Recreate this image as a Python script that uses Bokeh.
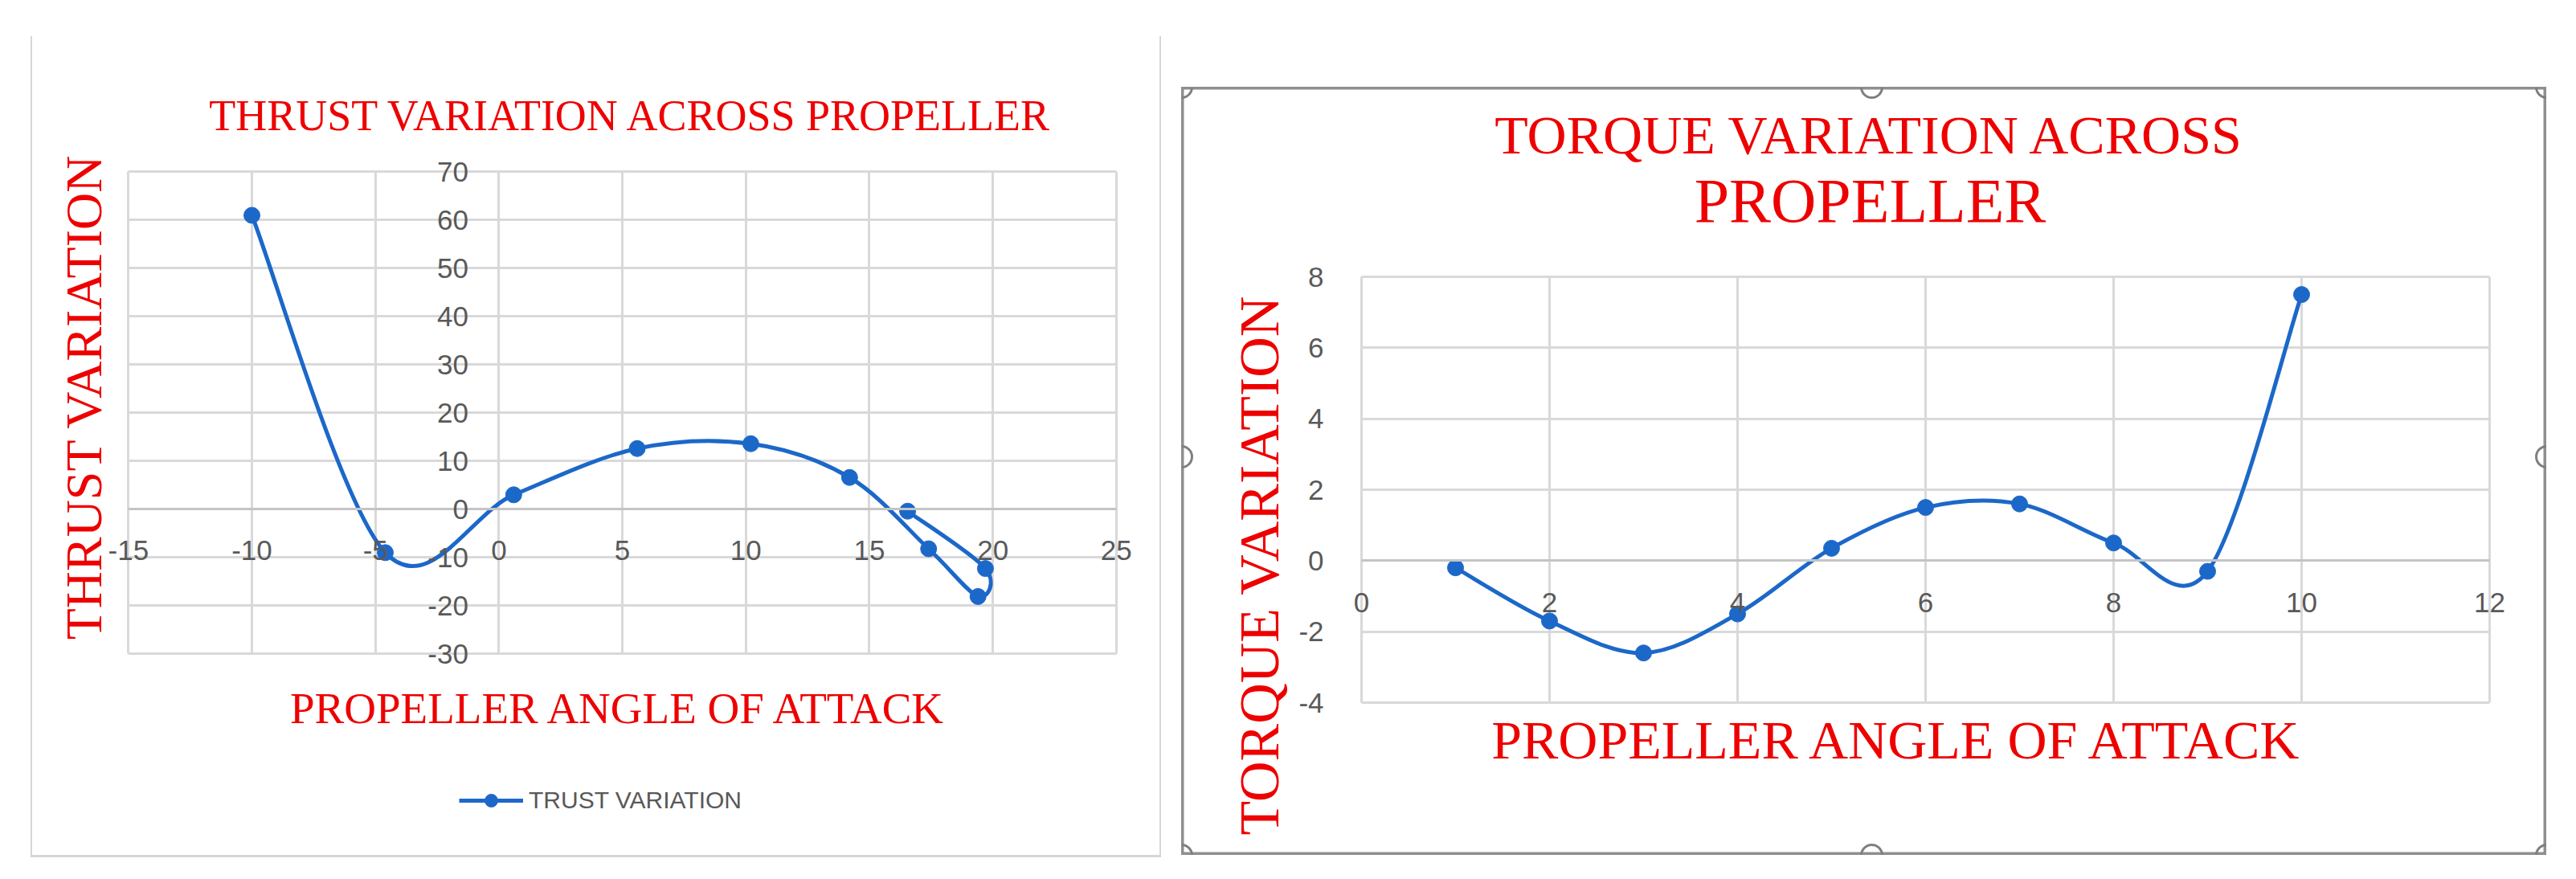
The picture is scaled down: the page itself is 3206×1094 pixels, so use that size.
import math
from bokeh.plotting import figure
from bokeh.models import (Range1d, FixedTicker, Legend, LegendItem, ColumnDataSource, Label,
                          PrintfTickFormatter, Grid)
from bokeh.layouts import row
from bokeh.embed import file_html
from bokeh.resources import INLINE

# ---------------- data ----------------
thrust_angle = [-10, -4.6, 0.6, 5.6, 10.2, 14.2, 17.4, 19.4, 19.7, 16.55]
thrust_value = [61, -9, 3, 12.6, 13.6, 6.6, -8.2, -18.1, -12.3, -0.4]
thrust_xticks = [-15, -10, -5, 0, 5, 10, 15, 20, 25]
thrust_yticks = [-30, -20, -10, 0, 10, 20, 30, 40, 50, 60, 70]

torque_angle = [1, 2, 3, 4, 5, 6, 7, 8, 9, 10]
torque_value = [-0.2, -1.7, -2.6, -1.5, 0.35, 1.5, 1.6, 0.5, -0.3, 7.5]
torque_xticks = [0, 2, 4, 6, 8, 10, 12]
torque_yticks = [-4, -2, 0, 2, 4, 6, 8]

BLUE = "#1c68c9"
RED = "#ee0000"
GRID = "#d9d9d9"
TICK = "#595959"
HANDLE = "#7f7f7f"
SERIF = "Liberation Serif"
SANS = "Liberation Sans"
HAS_CROSS = "cross_bounds" in Grid.properties()


def smooth_source(xs, ys):
    """Excel-style smoothed line: cubic Bezier segments through the points."""
    pts = list(zip(xs, ys))
    n = len(pts)
    d = dict(x0=[], y0=[], x1=[], y1=[], cx0=[], cy0=[], cx1=[], cy1=[])
    for i in range(n - 1):
        p0 = pts[i - 1] if i > 0 else pts[i]
        p1 = pts[i]
        p2 = pts[i + 1]
        p3 = pts[i + 2] if i + 2 < n else pts[i + 1]
        d["x0"].append(p1[0]); d["y0"].append(p1[1])
        d["x1"].append(p2[0]); d["y1"].append(p2[1])
        d["cx0"].append(p1[0] + (p2[0] - p0[0]) / 6)
        d["cy0"].append(p1[1] + (p2[1] - p0[1]) / 6)
        d["cx1"].append(p2[0] - (p3[0] - p1[0]) / 6)
        d["cy1"].append(p2[1] - (p3[1] - p1[1]) / 6)
    return ColumnDataSource(d)


class Panel:
    """A figure whose frame fills the canvas; the plot box is a sub-rectangle."""

    def __init__(self, W, H, box, xlim, ylim):
        self.W, self.H = W, H
        L, T, R, B = box
        self.L, self.T = L, T
        self.xlim, self.ylim = xlim, ylim
        self.kx = (R - L) / (xlim[1] - xlim[0])
        self.ky = (B - T) / (ylim[1] - ylim[0])
        x_range = Range1d(xlim[0] - L / self.kx, xlim[1] + (W - R) / self.kx)
        y_range = Range1d(ylim[0] - (H - B) / self.ky, ylim[1] + T / self.ky)
        self.p = figure(frame_width=W, frame_height=H, min_border=0, title=None,
                        x_range=x_range, y_range=y_range,
                        output_backend="svg", toolbar_location=None,
                        background_fill_color="white", border_fill_color="white")
        self.p.outline_line_color = None

    def dx(self, px):
        return self.xlim[0] + (px - self.L) / self.kx

    def dy(self, py):
        return self.ylim[1] - (py - self.T) / self.ky

    def text(self, s, px, py, size, angle=0.0, align="center"):
        self.p.add_layout(Label(x=self.dx(px), y=self.dy(py), text=s, angle=angle,
                                text_font=SERIF, text_font_size=size, text_color=RED,
                                text_align=align, text_baseline="alphabetic"))

    def handles(self, spots):
        """Selection handles of the chart frame: (px, py, start, end) in canvas pixels."""
        self.p.arc(x=[self.dx(s[0]) for s in spots], y=[self.dy(s[1]) for s in spots],
                   radius=13, radius_units="screen",
                   start_angle=[s[2] for s in spots], end_angle=[s[3] for s in spots],
                   line_color=HANDLE, line_width=3)

    def axes(self, xticks, yticks, ystandoff, xstandoff):
        p = self.p
        p.xaxis.ticker = FixedTicker(ticks=xticks)
        p.yaxis.ticker = FixedTicker(ticks=yticks)
        if HAS_CROSS:
            p.xgrid.ticker = FixedTicker(ticks=xticks)
            p.ygrid.ticker = FixedTicker(ticks=yticks)
            p.xgrid.cross_bounds = self.ylim
            p.ygrid.cross_bounds = self.xlim
            for g in (p.xgrid, p.ygrid):
                g.grid_line_color = GRID
                g.grid_line_width = 3
        else:
            p.grid.visible = False
            p.segment(x0=xticks, x1=xticks, y0=[self.ylim[0]] * len(xticks),
                      y1=[self.ylim[1]] * len(xticks), line_color=GRID, line_width=3)
            p.segment(y0=yticks, y1=yticks, x0=[self.xlim[0]] * len(yticks),
                      x1=[self.xlim[1]] * len(yticks), line_color=GRID, line_width=3)
        for ax in (p.xaxis, p.yaxis):
            ax.major_tick_line_color = None
            ax.minor_tick_line_color = None
            ax.major_label_text_font = SANS
            ax.major_label_text_font_size = "35px"
            ax.major_label_text_color = TICK
            ax.fixed_location = 0
            ax.formatter = PrintfTickFormatter(format="%d")
        p.xaxis.bounds = self.xlim
        p.yaxis.bounds = self.ylim
        p.yaxis.axis_line_color = None
        p.xaxis.axis_line_color = "#c4c4c4"
        p.xaxis.axis_line_width = 3
        p.yaxis.major_label_standoff = ystandoff
        p.xaxis.major_label_standoff = xstandoff


# ---------------- left chart: thrust ----------------
A = Panel(1403, 1019, (119, 168, 1345, 766), (-15, 25), (-30, 70))
A.axes(thrust_xticks, thrust_yticks, ystandoff=32, xstandoff=33)
src1 = smooth_source(thrust_angle, thrust_value)
A.p.bezier(x0="x0", y0="y0", x1="x1", y1="y1", cx0="cx0", cy0="cy0", cx1="cx1", cy1="cy1",
           source=src1, line_color=BLUE, line_width=5)
c1 = A.p.scatter(thrust_angle, thrust_value, size=20, fill_color=BLUE, line_color=BLUE)
leg_line = A.p.line([float("nan")], [float("nan")], line_color=BLUE, line_width=5)

A.text("THRUST VARIATION ACROSS PROPELLER", 743, 98, "54px")
A.text("THRUST VARIATION", 64, 447, "64px", angle=math.pi / 2)
A.text("PROPELLER ANGLE OF ATTACK", 728, 834, "55px")

legend = Legend(items=[LegendItem(label="TRUST VARIATION", renderers=[leg_line, c1])],
                location=(531, 51), orientation="horizontal",
                label_text_font=SANS, label_text_font_size="30px", label_text_color=TICK,
                glyph_width=80, glyph_height=40, label_standoff=7, border_line_color=None,
                background_fill_alpha=0, padding=0, margin=0, spacing=0)
A.p.add_layout(legend)
A.p.margin = (45, 0, 0, 38)
A.p.styles = {"border-left": "2px solid #d6d6d6", "border-bottom": "3px solid #d6d6d6",
              "border-right": "2px solid #d6d6d6"}

# ---------------- right chart: torque ----------------
B = Panel(1699, 956, (224, 236, 1628, 766), (0, 12), (-4, 8))
B.axes(torque_xticks, torque_yticks, ystandoff=41, xstandoff=34)
src2 = smooth_source(torque_angle, torque_value)
B.p.bezier(x0="x0", y0="y0", x1="x1", y1="y1", cx0="cx0", cy0="cy0", cx1="cx1", cy1="cy1",
           source=src2, line_color=BLUE, line_width=5)
B.p.scatter(torque_angle, torque_value, size=20, fill_color=BLUE, line_color=BLUE)

B.text("TORQUE VARIATION ACROSS", 857, 59, "68px")
B.text("PROPELLER", 857, 141, "78px")
B.text("TORQUE VARIATION", 97, 595, "70px", angle=math.pi / 2)
B.text("PROPELLER ANGLE OF ATTACK", 892, 812, "68px")
B.p.outline_line_color = "#8f8f8f"
B.p.outline_line_width = 6
PI = math.pi
B.handles([(0, 0, 1.5 * PI, 2 * PI), (859, 0, PI, 2 * PI), (1699, 0, PI, 1.5 * PI),
           (0, 460, -0.5 * PI, 0.5 * PI), (1699, 460, 0.5 * PI, 1.5 * PI),
           (0, 956, 0, 0.5 * PI), (859, 956, 0, PI), (1699, 956, 0.5 * PI, PI)])
B.p.margin = (108, 0, 0, 25)

layout = row(A.p, B.p)
open("out.html", "w").write(file_html(layout, INLINE))
